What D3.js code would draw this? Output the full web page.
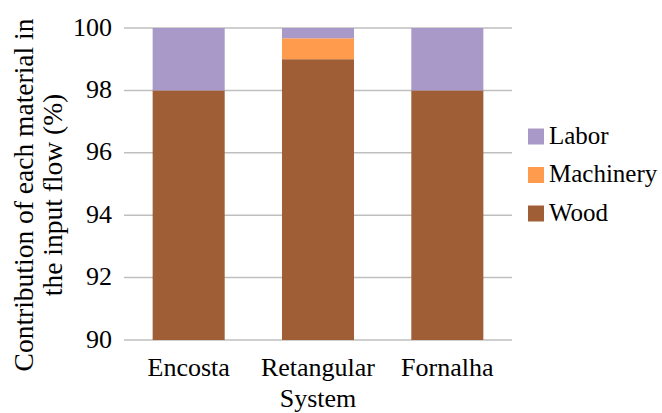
<!DOCTYPE html>
<html><head><meta charset="utf-8">
<script src="https://cdn.jsdelivr.net/npm/d3@7"></script>
</head><body style="margin:0;background:#fff">
<svg id="c" width="662" height="413"></svg>
<script>
const categories = [["Encosta"], ["Retangular", "System"], ["Fornalha"]];
const categoryKeys = ["Encosta", "Retangular System", "Fornalha"];
const seriesNames = ["Wood", "Machinery", "Labor"];
const wood = [98, 99, 98];
const machinery = [0, 0.67, 0];
const labor = [2, 0.33, 2];
const yTicks = [90, 92, 94, 96, 98, 100];
const colors = {Wood: "#a05e37", Machinery: "#ff9b4d", Labor: "#a899c8"};
const FONT = "Liberation Serif";

const rows = categoryKeys.map((k, i) => ({key: k, Wood: wood[i], Machinery: machinery[i], Labor: labor[i]}));
const stack = d3.stack().keys(seriesNames)(rows);

const svg = d3.select("#c");
const L = 124, R = 512, T = 28, B = 340;
const x = d3.scaleBand().domain(categoryKeys).range([L, R]).paddingInner(0.443).paddingOuter(0.2215);
const y = d3.scaleLinear().domain([90, 100]).range([B, T]);

// gridlines
svg.append("g").selectAll("line").data(yTicks).join("line")
  .attr("x1", L).attr("x2", R).attr("y1", d => y(d)).attr("y2", d => y(d))
  .attr("stroke", "#bfbfbf").attr("stroke-width", 1.5);

// bars
svg.append("g").selectAll("g").data(stack).join("g")
  .attr("fill", d => colors[d.key])
  .selectAll("rect").data(d => d).join("rect")
  .attr("x", d => x(d.data.key))
  .attr("width", x.bandwidth())
  .attr("y", d => y(Math.min(100, d[1])))
  .attr("height", d => Math.max(0, y(Math.max(90, d[0])) - y(Math.min(100, d[1]))));

// y axis labels
const yAxis = d3.axisLeft(y).tickValues(yTicks).tickSize(0).tickPadding(12);
const ga = svg.append("g").attr("transform", `translate(${L},0)`).call(yAxis);
ga.select(".domain").remove();
ga.attr("font-family", FONT).attr("font-size", 26);
ga.selectAll("text").attr("dy", "0.27em").attr("fill", "#000");

// x labels
categoryKeys.forEach((k, i) => {
  const cx = x(k) + x.bandwidth() / 2;
  const t = svg.append("text").attr("x", cx).attr("y", 376)
    .attr("text-anchor", "middle").attr("font-family", FONT).attr("font-size", 26);
  categories[i].forEach((ln, j) => t.append("tspan").attr("x", cx).attr("dy", j ? 31 : 0).text(ln));
});

// y title
const yt = svg.append("text").attr("transform", "translate(0,195) rotate(-90)").attr("text-anchor", "middle")
  .attr("font-family", FONT).attr("font-size", 27.5);
yt.append("tspan").attr("x", 0).attr("y", 33).text("Contribution of each material in");
yt.append("tspan").attr("x", 0).attr("y", 62).text("the input flow (%)");

// legend
const legendOrder = ["Labor", "Machinery", "Wood"];
const lg = svg.append("g");
legendOrder.forEach((n, i) => {
  const base = 143.5 + i * 38.5;
  lg.append("rect").attr("x", 528).attr("y", base - 15).attr("width", 16).attr("height", 16).attr("fill", colors[n]);
  lg.append("text").attr("x", 549).attr("y", base).attr("font-family", FONT).attr("font-size", 25).text(n);
});
</script>
</body></html>
